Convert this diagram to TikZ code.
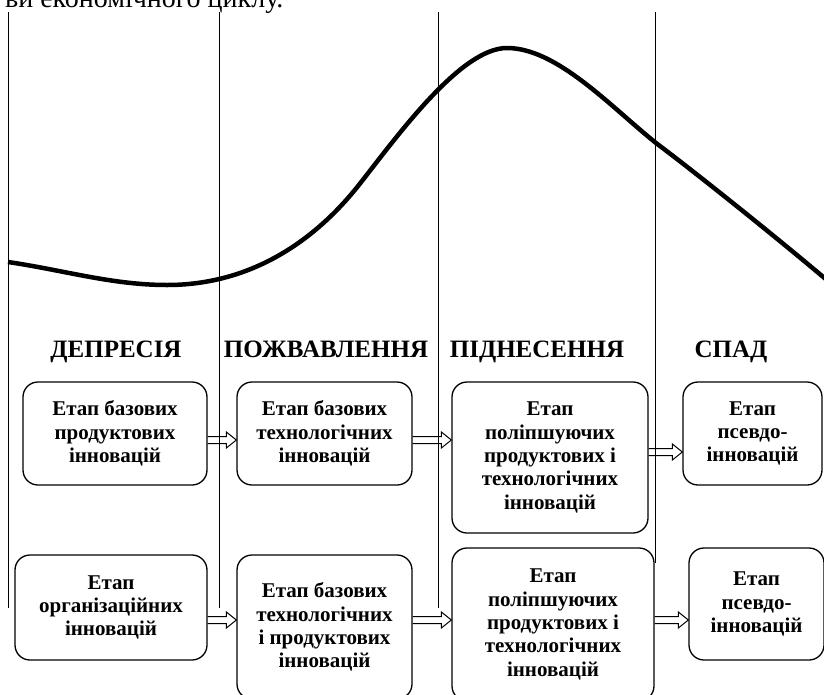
\documentclass[tikz,border=0pt]{standalone}
\usepackage{fontspec}
\setmainfont{Liberation Serif}
\usetikzlibrary{calc}
\newcommand{\blockarrow}[3]{%
  \draw[line width=1pt] let \p1=(#1.east |- 0,#3), \p2=(#2.west |- 0,#3) in
    (\x1,\y1+3.5pt) -- (\x2-10pt,\y1+3.5pt) -- (\x2-10pt,\y1+8pt) -- (\x2,\y1)
    -- (\x2-10pt,\y1-8pt) -- (\x2-10pt,\y1-3.5pt) -- (\x1,\y1-3.5pt);}

\begin{document}
\begin{tikzpicture}[x=1pt, y=-1pt,
    stage/.style={draw, line width=1.3pt, rounded corners=15pt, align=center, inner sep=0pt,
      font=\bfseries\fontsize{21}{23.3}\selectfont},
    phase/.style={anchor=base, font=\bfseries\fontsize{25}{28}\selectfont}]
\useasboundingbox (0,0) rectangle (824,694);
\clip (0,0) rectangle (824,694);

\node[anchor=base east, font=\fontsize{28}{32}\selectfont] (cap) at (287,7) {ви економічного циклу.};

\foreach \x/\e in {8/608, 219/608, 438/608, 655/563}
  \draw[line width=0.9pt] (\x,12) -- (\x,\e);

\draw[line width=4.5pt] (8,262) .. controls (63,270) and (112,285) .. (167,285)
  .. controls (275,285) and (338,212) .. (362,181)
  .. controls (401,131) and (462,48) .. (507,48)
  .. controls (557,48) and (611,107) .. (656,143)
  .. controls (696,173) and (776,237) .. (828,281);

\node[phase] (H1) at (116,357) {ДЕПРЕСІЯ};
\node[phase] (H2) at (326,357) {ПОЖВАВЛЕННЯ};
\node[phase] (H3) at (537,357) {ПІДНЕСЕННЯ};
\node[phase] (H4) at (731,357) {СПАД};

\node[stage, minimum width=184pt, minimum height=103pt] (T1) at (115,433.5) {Етап базових\\продуктових\\інновацій};
\node[stage, minimum width=175pt, minimum height=103pt] (T2) at (324.5,433.5) {Етап базових\\технологічних\\інновацій};
\node[stage, minimum width=196pt, minimum height=151pt] (T3) at (550,457.5) {Етап\\поліпшуючих\\продуктових і\\технологічних\\інновацій};
\node[stage, minimum width=139pt, minimum height=103pt] (T4) at (752.5,433.5) {Етап\\псевдо-\\інновацій};

\node[stage, minimum width=192pt, minimum height=105pt] (L1) at (111,607.5) {Етап\\організаційних\\інновацій};
\node[stage, minimum width=175pt, minimum height=144pt] (L2) at (324.5,627) {Етап базових\\технологічних\\і продуктових\\інновацій};
\node[stage, minimum width=202pt, minimum height=153pt] (L3) at (553,624.5) {Етап\\поліпшуючих\\продуктових і\\технологічних\\інновацій};
\node[stage, minimum width=135pt, minimum height=112pt] (L4) at (756.5,604) {Етап\\псевдо-\\інновацій};

\blockarrow{T1}{T2}{440}
\blockarrow{T2}{T3}{440}
\blockarrow{T3}{T4}{452}
\blockarrow{L1}{L2}{620}
\blockarrow{L2}{L3}{620}
\blockarrow{L3}{L4}{620}
\end{tikzpicture}
\end{document}
